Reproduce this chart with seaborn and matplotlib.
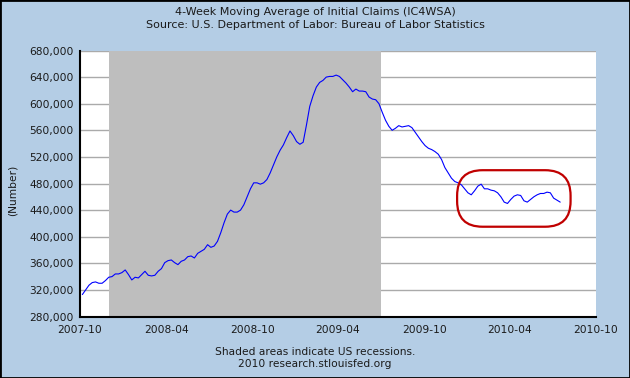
import numpy as np
import pandas as pd
import matplotlib
matplotlib.use('Agg')
import matplotlib.pyplot as plt
import matplotlib.dates as mdates
import matplotlib.ticker as mticker
from matplotlib.patches import FancyBboxPatch, Rectangle
from matplotlib.transforms import IdentityTransform
import seaborn as sns

# Weekly 4-week moving average of initial claims (thousands)
first_week = '2007-10-06'
claims_k = [
    313, 320, 327, 331, 332, 330, 330, 334, 339, 340,
    344, 344, 346, 350, 343, 335, 339, 338, 343, 348,
    342, 341, 342, 348, 352, 361, 364, 365, 361, 358,
    363, 365, 370, 371, 368, 375, 378, 381, 388, 384,
    386, 393, 406, 421, 434, 440, 437, 437, 440, 448,
    460, 472, 481, 481, 479, 481, 486, 496, 508, 520,
    530, 538, 549, 559, 552, 543, 539, 542, 568, 596,
    612, 625, 632, 635, 640, 641, 641, 643, 641, 636,
    631, 625, 618, 622, 619, 619, 618, 610, 607, 606,
    600, 587, 575, 566, 560, 563, 567, 565, 566, 567,
    564, 557, 550, 543, 537, 533, 531, 528, 524, 516,
    504, 496, 488, 483, 481, 478, 472, 466, 463, 469,
    476, 479, 472, 472, 470, 469, 466, 460, 452, 450,
    456, 461, 463, 462, 454, 452, 456, 460, 463, 465,
    465, 467, 466, 458, 455, 452,
]
weeks = pd.date_range(first_week, periods=len(claims_k), freq='W-SAT')
claims = np.array(claims_k) * 1000

recession_start = '2007-12-01'
recession_end = '2009-07-01'

x_ticks = ['2007-10', '2008-04', '2008-10', '2009-04', '2009-10', '2010-04', '2010-10']
y_ticks = [280000, 320000, 360000, 400000, 440000, 480000, 520000, 560000, 600000, 640000, 680000]

# highlighted region (red rounded box)
box_dates = ['2009-12-10', '2010-08-08']
box_values = [415000, 500000]

bg = '#B4CDE5'
txt = '#1a1a1a'

sns.set_theme(style='white')
plt.rcParams['font.family'] = ['DejaVu Sans']

df = pd.DataFrame({'Date': weeks, 'Claims': claims})

fig = plt.figure(figsize=(6.3, 3.78), dpi=100, facecolor=bg)
ax = fig.add_axes([80 / 630, 1 - 316.5 / 378, 516 / 630, 266 / 378])
ax.set_facecolor('white')

ax.axvspan(pd.Timestamp(recession_start), pd.Timestamp(recession_end),
           color='#BEBEBE', lw=0, zorder=2)
sns.lineplot(data=df, x='Date', y='Claims', ax=ax, color='#0000FF', lw=0.8, zorder=3)

ax.set_xlim(pd.Timestamp(x_ticks[0]), pd.Timestamp(x_ticks[-1]))
ax.set_ylim(y_ticks[0], y_ticks[-1])
ax.set_xticks([pd.Timestamp(t) for t in x_ticks])
ax.xaxis.set_major_formatter(mdates.DateFormatter('%Y-%m'))
ax.set_yticks(y_ticks)
ax.yaxis.set_major_formatter(mticker.FuncFormatter(lambda v, p: f'{int(v):,}'))

ax.grid(axis='y', color='#AAAAAA', lw=1, zorder=1)
ax.grid(axis='x', visible=False)
ax.set_axisbelow(True)

for s in ['top', 'right']:
    ax.spines[s].set_visible(False)
for s in ['left', 'bottom']:
    ax.spines[s].set_color('black')
    ax.spines[s].set_linewidth(1.5)
    ax.spines[s].set_zorder(5)

ax.tick_params(axis='both', direction='in', length=4, width=1, color='black',
               labelsize=7.7, labelcolor=txt)
ax.tick_params(axis='x', pad=6)
ax.tick_params(axis='y', pad=4.5)
ax.set_xlabel('')
ax.set_ylabel('')

fig.text(13 / 630, 1 - 190 / 378, '(Number)', rotation=90, ha='center', va='center',
         fontsize=7.7, color=txt)
fig.text(0.5, 1 - 12 / 378, '4-Week Moving Average of Initial Claims (IC4WSA)',
         ha='center', va='center', fontsize=8, color=txt)
fig.text(0.5, 1 - 25.5 / 378, 'Source: U.S. Department of Labor: Bureau of Labor Statistics',
         ha='center', va='center', fontsize=8, color=txt)
fig.text(0.5, 1 - 352 / 378, 'Shaded areas indicate US recessions.',
         ha='center', va='center', fontsize=7.7, color=txt)
fig.text(0.5, 1 - 364 / 378, '2010 research.stlouisfed.org',
         ha='center', va='center', fontsize=7.7, color=txt)

# red rounded box drawn in pixel space so the corners stay round
p0 = ax.transData.transform((mdates.date2num(pd.Timestamp(box_dates[0])), box_values[0]))
p1 = ax.transData.transform((mdates.date2num(pd.Timestamp(box_dates[1])), box_values[1]))
w, h = p1[0] - p0[0], p1[1] - p0[1]
box = FancyBboxPatch((p0[0], p0[1]), w, h,
                     boxstyle=f'round,pad=0,rounding_size={h * 0.45}',
                     transform=IdentityTransform(), fill=False,
                     edgecolor='#C00000', lw=1.6, zorder=10)
fig.add_artist(box)

fig.add_artist(Rectangle((0, 0), 1, 1, transform=fig.transFigure, fill=False,
                         edgecolor='black', lw=2))

fig.savefig('out.png', dpi=100, facecolor=bg)
